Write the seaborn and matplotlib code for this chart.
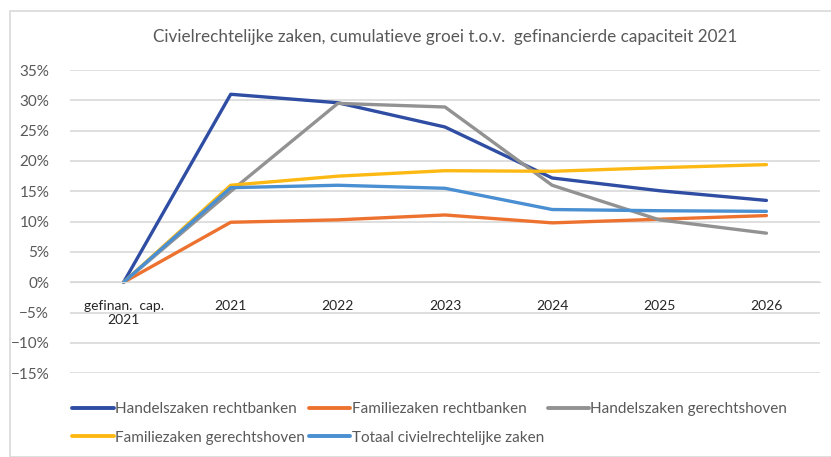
import seaborn as sns
import pandas as pd
from matplotlib import pyplot as plt
import matplotlib.ticker as mtick
from matplotlib.patches import Rectangle

categories = ['gefinan.  cap.\n2021', '2021', '2022', '2023', '2024', '2025', '2026']
series_names = ['Handelszaken rechtbanken', 'Familiezaken rechtbanken', 'Handelszaken gerechtshoven',
                'Familiezaken gerechtshoven', 'Totaal civielrechtelijke zaken']
handel_rb = [0.0, 31.0, 29.6, 25.6, 17.2, 15.1, 13.5]
familie_rb = [0.0, 9.9, 10.3, 11.1, 9.8, 10.4, 11.0]
handel_gh = [0.0, 15.0, 29.5, 28.9, 16.0, 10.3, 8.1]
familie_gh = [0.0, 16.0, 17.5, 18.4, 18.3, 18.9, 19.4]
totaal = [0.0, 15.6, 16.0, 15.5, 12.0, 11.8, 11.7]
colors = ['#2e4da3', '#ed7230', '#929292', '#fdb913', '#4a8fd2']

rows = []
for name, vals in zip(series_names, [handel_rb, familie_rb, handel_gh, familie_gh, totaal]):
    for i, v in enumerate(vals):
        rows.append({'pos': i, 'groei': v / 100, 'reeks': name})
df = pd.DataFrame(rows)

sns.set_style('white')
plt.rcParams['font.family'] = ['Lato', 'DejaVu Sans']
text_col = '#595959'

fig = plt.figure(figsize=(8.31, 4.57), dpi=100)
fig.patches.append(Rectangle((10 / 831, 0.0), 1.0, 1 - 11 / 457, transform=fig.transFigure,
                             fill=False, edgecolor='#d9d9d9', linewidth=1.2))
ax = fig.add_axes([70 / 831, 1 - 373.3 / 457, 750 / 831, (373.3 - 70) / 457])

sns.lineplot(data=df, x='pos', y='groei', hue='reeks', hue_order=series_names,
             palette=dict(zip(series_names, colors)), linewidth=2.4, ax=ax, sort=False)

ax.set_xlim(-0.5, 6.5)
ax.set_ylim(-0.15, 0.35)
ax.yaxis.set_major_locator(mtick.MultipleLocator(0.05))
ax.yaxis.set_major_formatter(mtick.PercentFormatter(1.0, decimals=0))
ax.set_xticks(range(len(categories)))
ax.set_xticklabels(categories, color=text_col, fontsize=11, linespacing=1.6)
ax.tick_params(axis='y', colors=text_col, labelsize=11, length=0, pad=15)
ax.tick_params(axis='x', length=0, pad=13)
ax.grid(axis='y', color='#d9d9d9', linewidth=1.2)
ax.set_axisbelow(True)
for s in ['top', 'right', 'left']:
    ax.spines[s].set_visible(False)
ax.spines['bottom'].set_position(('data', 0))
ax.spines['bottom'].set_color('#d9d9d9')
ax.set_xlabel('')
ax.set_ylabel('')

ax.set_title('Civielrechtelijke zaken, cumulatieve groei t.o.v.  gefinancierde capaciteit 2021',
             color=text_col, fontsize=12.3, pad=20)

# legend is filled row by row in the reference; matplotlib fills columns, so reorder
handles, labels = ax.get_legend_handles_labels()
order = [0, 3, 1, 4, 2]
leg = ax.legend([handles[i] for i in order], [labels[i] for i in order],
                loc='upper left', bbox_to_anchor=(-0.005, -0.075), ncol=3, frameon=False,
                fontsize=11, handlelength=2.7, handletextpad=0.1, columnspacing=0.25,
                labelspacing=0.95, borderaxespad=0)
for t in leg.get_texts():
    t.set_color(text_col)
for h in leg.get_lines():
    h.set_linewidth(2.8)

fig.savefig('out.png', dpi=100)
